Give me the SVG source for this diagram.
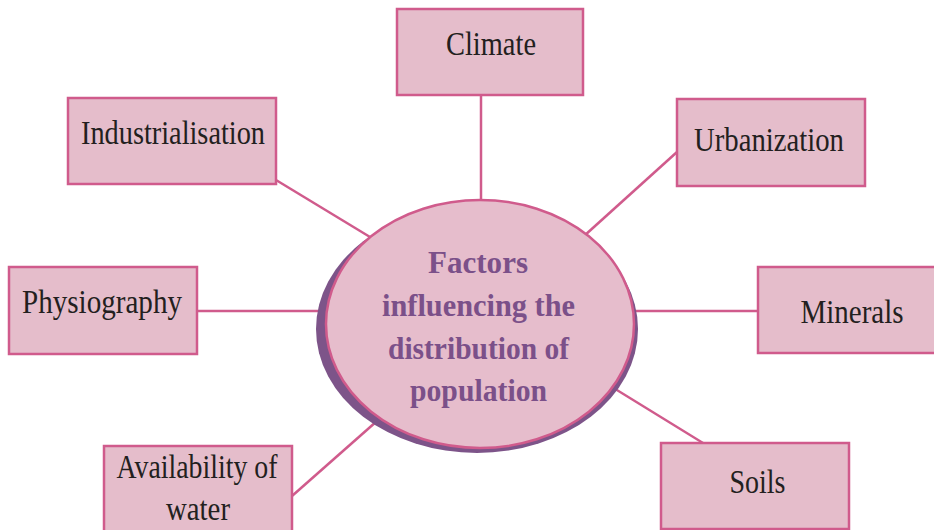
<svg xmlns="http://www.w3.org/2000/svg" width="934" height="530" viewBox="0 0 934 530">
<style>
.box{fill:#e5bdcb;stroke:#d05b8c;stroke-width:2.5}
.lbl{font-family:"Liberation Serif","Times New Roman",serif;font-size:33px;fill:#231f20;text-anchor:middle}
.ctr{font-family:"Liberation Serif","Times New Roman",serif;font-size:32px;font-weight:bold;fill:#7b5089;text-anchor:middle}
.conn{stroke:#d05b8c;stroke-width:2.5;fill:none}
</style>
<rect width="934" height="530" fill="#ffffff"/>
<g id="connectors">
<line class="conn" x1="481" y1="95" x2="481" y2="205"/>
<line class="conn" x1="276" y1="180" x2="370" y2="237"/>
<line class="conn" x1="677" y1="152" x2="584" y2="236"/>
<line class="conn" x1="197" y1="311" x2="330" y2="311"/>
<line class="conn" x1="630" y1="311" x2="758" y2="311"/>
<line class="conn" x1="612" y1="387" x2="703" y2="443"/>
<line class="conn" x1="292" y1="496" x2="377" y2="421"/>
</g>
<g id="center">
<ellipse cx="477" cy="329" rx="161" ry="124" fill="#7d5489"/>
<ellipse cx="480" cy="324" rx="154" ry="124" fill="#e6bdcc" stroke="#d05b8c" stroke-width="2.5"/>
<text class="ctr" x="478" y="273" textLength="100" lengthAdjust="spacingAndGlyphs">Factors</text>
<text class="ctr" x="478.5" y="316" textLength="193" lengthAdjust="spacingAndGlyphs">influencing the</text>
<text class="ctr" x="478.5" y="359" textLength="181" lengthAdjust="spacingAndGlyphs">distribution of</text>
<text class="ctr" x="478.5" y="401" textLength="137" lengthAdjust="spacingAndGlyphs">population</text>
</g>
<g id="climate">
<rect class="box" x="397" y="9" width="186" height="86"/>
<text class="lbl" x="491" y="55" textLength="90" lengthAdjust="spacingAndGlyphs">Climate</text>
</g>
<g id="industrialisation">
<rect class="box" x="68" y="98" width="208" height="86"/>
<text class="lbl" x="173" y="144" textLength="184" lengthAdjust="spacingAndGlyphs">Industrialisation</text>
</g>
<g id="urbanization">
<rect class="box" x="677" y="99" width="188" height="87"/>
<text class="lbl" x="769" y="151" textLength="150" lengthAdjust="spacingAndGlyphs">Urbanization</text>
</g>
<g id="physiography">
<rect class="box" x="9" y="267" width="188" height="87"/>
<text class="lbl" x="102" y="313" textLength="160" lengthAdjust="spacingAndGlyphs">Physiography</text>
</g>
<g id="minerals">
<rect class="box" x="758" y="267" width="190" height="86"/>
<text class="lbl" x="852" y="323" textLength="103" lengthAdjust="spacingAndGlyphs">Minerals</text>
</g>
<g id="soils">
<rect class="box" x="661" y="443" width="188" height="86"/>
<text class="lbl" x="757.5" y="493" textLength="56" lengthAdjust="spacingAndGlyphs">Soils</text>
</g>
<g id="water">
<rect class="box" x="104" y="446" width="188" height="90"/>
<text class="lbl" x="197" y="478" textLength="161" lengthAdjust="spacingAndGlyphs">Availability of</text>
<text class="lbl" x="198" y="520" textLength="64" lengthAdjust="spacingAndGlyphs">water</text>
</g>
</svg>
